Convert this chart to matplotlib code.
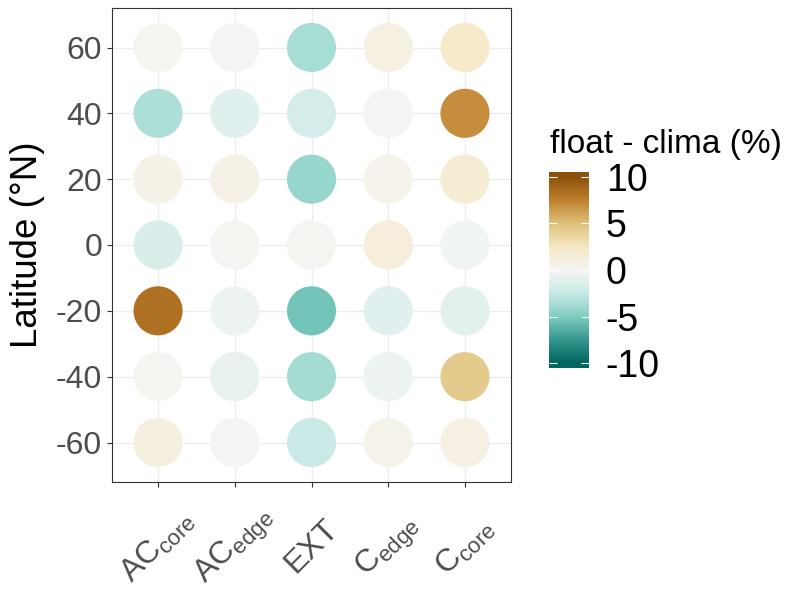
import numpy as np
import matplotlib
matplotlib.use("Agg")
import matplotlib.pyplot as plt
from matplotlib.colors import LinearSegmentedColormap, Normalize

plt.rcParams['font.family'] = ['Liberation Sans', 'DejaVu Sans']
plt.rcParams['mathtext.fontset'] = 'custom'
plt.rcParams['mathtext.rm'] = 'Liberation Sans'
plt.rcParams['mathtext.it'] = 'Liberation Sans'
plt.rcParams['axes.unicode_minus'] = False

# data
categories = ['AC_core', 'AC_edge', 'EXT', 'C_edge', 'C_core']
cat_labels = [r'AC$_{\rm core}$', r'AC$_{\rm edge}$', 'EXT', r'C$_{\rm edge}$', r'C$_{\rm core}$']
latitudes = [60, 40, 20, 0, -20, -40, -60]
ac_core = [0.2, -3.4, 0.75, -1.5, 8.3, 0.2, 1.05]
ac_edge = [0.1, -1.15, 0.75, 0.3, -0.4, -0.75, 0.1]
ext = [-3.6, -1.75, -4.2, 0.3, -5.4, -3.75, -2.4]
c_edge = [1.0, -0.15, 0.45, 1.35, -1.15, -0.4, 0.55]
c_core = [2.1, 7.0, 1.7, -0.2, -1.05, 4.4, 0.9]
values = [ac_core, ac_edge, ext, c_edge, c_core]
cbar_ticks = [-10, -5, 0, 5, 10]

# BrBG (9 classes), teal for negative, brown for positive
brbg = ['#01665e', '#35978f', '#80cdc1', '#c7eae5', '#f5f5f5',
        '#f6e8c3', '#dfc27d', '#bf812d', '#8c510a']
cmap = LinearSegmentedColormap.from_list('brbg', brbg)
norm = Normalize(-10, 10)

fig = plt.figure(figsize=(7.92, 5.9), dpi=100)
ax = fig.add_axes([112/792, 1 - 482/590, 399/792, 474/590])

for i, v in enumerate(values):
    ax.scatter(np.full(len(latitudes), i + 1), latitudes, c=v, cmap=cmap, norm=norm,
               s=1250, edgecolors='none', zorder=3)

ax.set_xlim(0.4, 5.6)
ax.set_ylim(-72, 72)
ax.set_xticks(range(1, 6))
ax.set_xticklabels(cat_labels, rotation=45, ha='center', va='center',
                   rotation_mode='anchor', fontsize=24)
ax.set_yticks([60, 40, 20, 0, -20, -40, -60])
ax.grid(True, color='#ebebeb', lw=0.9)
ax.set_axisbelow(True)
ax.tick_params(axis='both', labelsize=23, labelcolor='#4d4d4d', color='#333333',
               length=3.6, width=0.8)
ax.tick_params(axis='x', pad=43)
for s in ax.spines.values():
    s.set_color('#333333')
    s.set_linewidth(0.8)
ax.set_ylabel('Latitude (°N)', fontsize=26.5)
ax.yaxis.set_label_coords(-0.168, 0.5)

# colorbar
cax = fig.add_axes([549/792, 1 - 368/590, 40/792, 196/590])
grad = np.linspace(-10.5, 10.5, 400).reshape(-1, 1)
cax.imshow(np.clip(grad, -10, 10), cmap=cmap, norm=norm, aspect='auto',
           origin='lower', extent=[0, 1, -10.5, 10.5])
cax.set_xticks([])
cax.set_yticks(cbar_ticks)
cax.set_yticklabels([str(t) for t in cbar_ticks])
cax.tick_params(axis='y', direction='in', left=True, right=True, labelleft=False,
                labelright=True, length=6, width=0.8, color='white', labelsize=27, pad=12)
for s in cax.spines.values():
    s.set_visible(False)
fig.text(550/792, 1 - 144/590, 'float - clima (%)', fontsize=24, ha='left', va='center')

fig.savefig('out.png', dpi=100)
